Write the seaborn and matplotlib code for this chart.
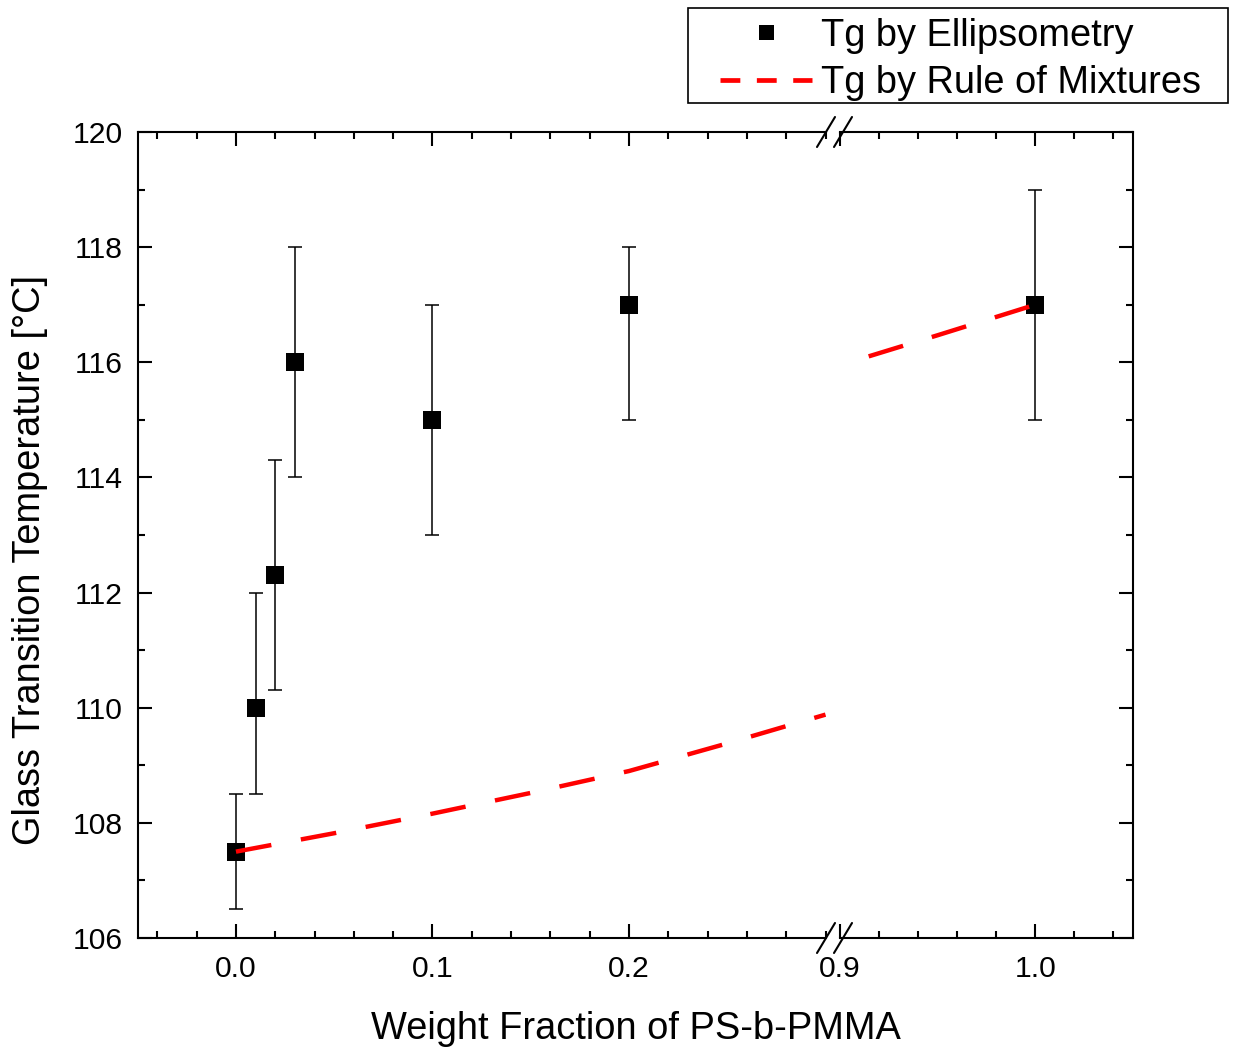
import numpy as np
import pandas as pd
import matplotlib
matplotlib.use("Agg")
import matplotlib.pyplot as plt
import seaborn as sns
from matplotlib.lines import Line2D
from matplotlib.patches import Rectangle
from matplotlib.legend_handler import HandlerLine2D
from matplotlib.ticker import MultipleLocator, FixedLocator, FormatStrFormatter

# ---------------- data ----------------
weight_fraction = [0.0, 0.01, 0.02, 0.03, 0.1, 0.2, 1.0]
tg_ellipsometry = [107.5, 110.0, 112.3, 116.0, 115.0, 117.0, 117.0]
err_lower = [1.0, 1.5, 2.0, 2.0, 2.0, 2.0, 2.0]
err_upper = [1.0, 2.0, 2.0, 2.0, 2.0, 1.0, 2.0]

rom_x_low = [0.0, 0.05, 0.1, 0.15, 0.2, 0.25, 0.3]
rom_y_low = [107.5, 107.82, 108.16, 108.52, 108.9, 109.38, 109.88]
rom_x_high = [0.9, 0.95, 1.0]
rom_y_high = [115.95, 116.47, 117.0]

x_ticks_low = [0.0, 0.1, 0.2]
x_ticks_high = [0.9, 1.0]
y_ticks = [106, 108, 110, 112, 114, 116, 118, 120]

label_ell = "Tg by Ellipsometry"
label_rom = "Tg by Rule of Mixtures"
x_label = "Weight Fraction of PS-b-PMMA"
y_label = "Glass Transition Temperature [°C]"

# ---------------- style ----------------
sns.set_theme(style="ticks", rc={
    "axes.edgecolor": "black", "xtick.color": "black", "ytick.color": "black",
    "text.color": "black", "axes.labelcolor": "black", "axes.grid": False,
})
plt.rcParams["font.family"] = ["Liberation Sans", "DejaVu Sans"]

W, H = 1235, 1048
def fx(px):
    return px / W
def fy(py):
    return 1 - py / H

fig = plt.figure(figsize=(W / 100, H / 100), dpi=100)
fig.patch.set_facecolor("white")
ax1 = fig.add_axes([fx(137.7), fy(938), fx(825.5) - fx(137.7), fy(132) - fy(938)])
ax2 = fig.add_axes([fx(840), fy(938), fx(1133) - fx(840), fy(132) - fy(938)], sharey=ax1)

df = pd.DataFrame({"x": weight_fraction, "y": tg_ellipsometry,
                   "lo": err_lower, "hi": err_upper})

TICK_FS = 21.7
for ax, (xmin, xmax), ticks in [(ax1, (-0.05, 0.3), x_ticks_low),
                                (ax2, (0.9, 1.05), x_ticks_high)]:
    sub = df[(df["x"] >= xmin) & (df["x"] <= xmax)]
    ax.errorbar(sub["x"], sub["y"], yerr=[sub["lo"], sub["hi"]], fmt="none",
                ecolor="black", elinewidth=1.1, capsize=5, capthick=1.1, zorder=2)
    sns.scatterplot(data=sub, x="x", y="y", marker="s", s=150, color="black",
                    linewidth=0, ax=ax, zorder=3, legend=False)
    ax.set_xlim(xmin, xmax)
    ax.set_ylim(106, 120)
    ax.xaxis.set_major_locator(FixedLocator(ticks))
    ax.xaxis.set_minor_locator(MultipleLocator(0.02))
    ax.xaxis.set_major_formatter(FormatStrFormatter("%.1f"))
    ax.yaxis.set_major_locator(FixedLocator(y_ticks))
    ax.yaxis.set_minor_locator(MultipleLocator(1))
    ax.yaxis.set_major_formatter(FormatStrFormatter("%d"))
    ax.tick_params(which="major", direction="in", length=10, width=1.5, top=True,
                   labelsize=TICK_FS)
    ax.tick_params(which="minor", direction="in", length=5, width=1.5, top=True)
    ax.tick_params(axis="x", which="major", pad=12)
    ax.tick_params(axis="y", which="major", pad=11)
    for sp in ax.spines.values():
        sp.set_linewidth(1.5)
        sp.set_color("black")
    ax.set_xlabel("")
    ax.set_ylabel("")
    ax.set_facecolor("white")

sns.lineplot(x=rom_x_low, y=rom_y_low, ax=ax1, color="red", lw=3.2,
             linestyle=(0, (8.1, 6.75)), errorbar=None, zorder=4)
sns.lineplot(x=rom_x_high, y=rom_y_high, ax=ax2, color="red", lw=3.2,
             linestyle=(8.1, (8.1, 6.75)), errorbar=None, zorder=4)

ax1.spines["right"].set_visible(False)
ax1.tick_params(axis="y", which="both", left=True, right=False)
ax2.spines["left"].set_visible(False)
ax2.tick_params(axis="y", which="both", left=False, right=True, labelleft=False)

# break marks
for cx, cy in [(826, 132), (843, 132), (826, 938), (843, 938)]:
    fig.add_artist(Line2D([fx(cx - 9), fx(cx + 9)], [fy(cy + 15), fy(cy - 15)],
                          transform=fig.transFigure, color="black", lw=1.5))

# axis labels
fig.text(fx(636), fy(1039), x_label, ha="center", va="baseline", fontsize=27.4)
fig.text(fx(30), fy(560), y_label, ha="center", va="center", rotation=90,
         fontsize=27.4)

# legend
h1 = Line2D([], [], marker="s", color="black", linestyle="none",
            markersize=10.8, markeredgewidth=0)
h2 = Line2D([], [], color="red", lw=3.4, linestyle=(0, (4.2, 3.5)))
leg = fig.legend(handles=[h1, h2], labels=[label_ell, label_rom],
                 loc="upper left", bbox_to_anchor=(fx(688), fy(14)),
                 bbox_transform=fig.transFigure, borderaxespad=0, borderpad=0.1,
                 handlelength=3.15, handletextpad=0.25, labelspacing=0.3,
                 fontsize=27.4, frameon=False,
                 handler_map={h1: HandlerLine2D(xpad=0.74),
                              h2: HandlerLine2D(xpad=0.74)})
fig.add_artist(Rectangle((fx(688), fy(103)), fx(1228) - fx(688), fy(8) - fy(103),
                         transform=fig.transFigure, fill=False,
                         edgecolor="black", lw=1.2))

fig.savefig("out.png", dpi=100, facecolor="white")
